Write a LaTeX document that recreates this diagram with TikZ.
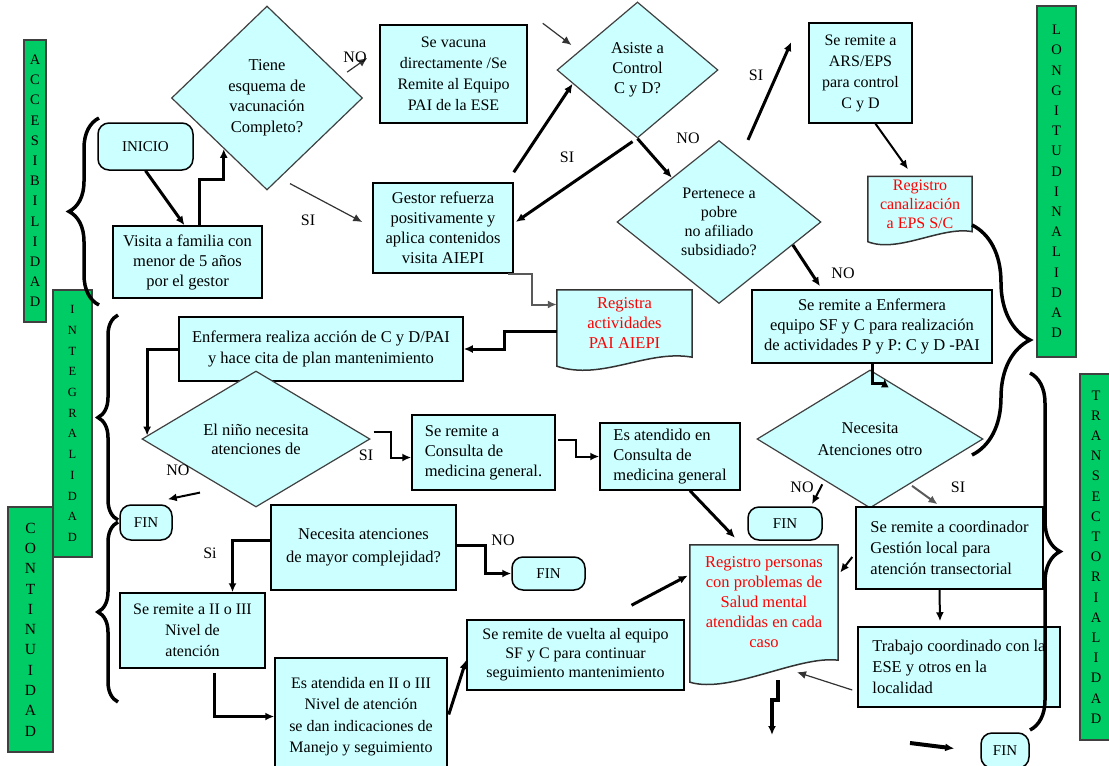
\documentclass[tikz,border=0pt]{standalone}
\usepackage{fontspec}
\setmainfont{Liberation Serif}
\usetikzlibrary{shapes.geometric,arrows.meta,calc,decorations.pathreplacing,backgrounds}
\definecolor{celeste}{RGB}{204,255,255}
\definecolor{verde}{RGB}{0,204,102}

\begin{document}
\begin{tikzpicture}[x=1pt,y=-1pt,>={Latex[length=9pt,width=8pt]},
    caja/.style={draw=black,line width=1.5pt,fill=celeste,align=center,inner sep=2pt,font=\fontsize{16.5}{20}\selectfont},
    cajaizq/.style={caja,align=left},
    terminal/.style={caja,rounded corners=11pt,font=\fontsize{15}{18}\selectfont},
    decision/.style={diamond,draw=black!75,line width=1.2pt,fill=celeste,align=center,inner sep=0pt,font=\fontsize{16.5}{20.5}\selectfont},
    registro/.style={align=center,inner sep=0pt,text=red,font=\fontsize{16.5}{20}\selectfont},
    hoja/.style={draw=black!80,line width=1.5pt,fill=celeste},
    barra/.style={draw=black!75,line width=1.5pt,fill=verde,align=center,inner sep=0pt,font=\fontsize{14.5}{20.2}\selectfont},
    etiqueta/.style={inner sep=0pt,font=\fontsize{16}{16}\selectfont},
    flecha/.style={->,line width=3pt},
    media/.style={->,line width=2pt},
    fina/.style={->,line width=1.2pt,black!80},
    llave/.style={decorate,decoration={brace,amplitude=#1},line width=3.5pt}]
\useasboundingbox (0,0) rectangle (1109,766);

\begin{scope}[every node/.style={barra}]
    \node[minimum width=22pt,minimum height=282pt] (acc) at (35,181) {A\\C\\C\\E\\S\\I\\B\\I\\L\\I\\D\\A\\D};
    \node[minimum width=45pt,minimum height=245pt,font=\fontsize{15.5}{20.3}\selectfont] (cont) at (30.5,629.5) {C\\O\\N\\T\\I\\N\\U\\I\\D\\A\\D};
    \node[minimum width=39pt,minimum height=267pt,font=\fontsize{12.5}{20.7}\selectfont] (integ) at (72.5,423.5) {I\\N\\T\\E\\G\\R\\A\\L\\I\\D\\A\\D};
    \node[minimum width=39pt,minimum height=351pt] (longi) at (1056.5,181.5) {L\\O\\N\\G\\I\\T\\U\\D\\I\\N\\A\\L\\I\\D\\A\\D};
    \node[minimum width=32pt,minimum height=366pt] (trans) at (1096,557) {T\\R\\A\\N\\S\\E\\C\\T\\O\\R\\I\\A\\L\\I\\D\\A\\D};
\end{scope}

\node[terminal,minimum width=95pt,minimum height=47pt] (inicio) at (145.5,146.5) {INICIO};
\node[caja,minimum width=149pt,minimum height=72pt] (visita) at (187.5,262) {Visita a familia con\\menor de 5 años\\por el gestor};
\node[decision,minimum width=191pt,minimum height=184pt] (dvacuna) at (267,98) {Tiene\\esquema de\\vacunación\\Completo?};
\node[caja,minimum width=147pt,minimum height=98pt,font=\fontsize{16}{21}\selectfont] (vacuna) at (453.5,74) {Se vacuna\\directamente /Se\\Remite al Equipo\\PAI de la ESE};
\node[decision,minimum width=161pt,minimum height=136pt,font=\fontsize{16.5}{20}\selectfont] (dcontrol) at (637.5,70) {Asiste a\\Control\\C y D?};
\node[caja,minimum width=103pt,minimum height=100pt,font=\fontsize{16}{21}\selectfont] (remars) at (860.5,73) {Se remite a\\ARS/EPS\\para control\\C y D};
\node[caja,minimum width=140pt,minimum height=90pt] (gestor) at (443,228) {Gestor refuerza\\positivamente y\\aplica contenidos\\visita AIEPI};
\node[decision,minimum width=204pt,minimum height=163pt,font=\fontsize{16}{19}\selectfont] (dpobre) at (719,222) {Pertenece a\\pobre\\no afiliado\\subsidiado?};
\node[registro,minimum width=104pt,minimum height=55pt,font=\fontsize{16}{19}\selectfont] (regcanal) at (920,204) {Registro\\canalización\\a EPS S/C};
\node[registro,minimum width=135pt,minimum height=67pt] (regact) at (624.5,323.5) {Registra\\actividades\\PAI AIEPI};
\node[caja,minimum width=240pt,minimum height=73pt] (remenf) at (872,326.5) {Se remite a Enfermera\\equipo SF y C para realización\\de actividades P y P: C y D -PAI};
\node[caja,minimum width=284pt,minimum height=64pt,font=\fontsize{16.5}{21}\selectfont] (enfacc) at (321,349) {Enfermera realiza acción de C y D/PAI\\y hace cita de plan mantenimiento};
\node[decision,minimum width=228pt,minimum height=98pt,font=\fontsize{16.5}{19}\selectfont] (dnino) at (256,439) {El niño necesita\\atenciones de};
\node[cajaizq,minimum width=143pt,minimum height=75pt] (remcons) at (483.5,452.5) {Se remite a\\Consulta de\\medicina general.};
\node[cajaizq,minimum width=140pt,minimum height=67pt] (atcons) at (670,456.5) {Es atendido en\\Consulta de\\medicina general};
\node[decision,minimum width=226pt,minimum height=98pt,font=\fontsize{16.5}{22}\selectfont] (dotro) at (870,439) {Necesita\\Atenciones otro};
\node[terminal,minimum width=52pt,minimum height=35pt] (fin1) at (146,522.5) {FIN};
\node[terminal,minimum width=74pt,minimum height=33pt] (fin2) at (785,523.5) {FIN};
\node[cajaizq,minimum width=187pt,minimum height=82pt,font=\fontsize{16.5}{21}\selectfont] (coord) at (949.5,548) {Se remite a coordinador\\Gestión local para\\atención transectorial};
\node[registro,minimum width=148pt,minimum height=115pt] (regsalud) at (764,602.5) {Registro personas\\con problemas de\\Salud mental\\atendidas en cada\\caso};
\node[cajaizq,minimum width=202pt,minimum height=80pt,font=\fontsize{16.5}{21}\selectfont] (trabajo) at (959,667) {Trabajo coordinado con la\\ESE y otros en la\\localidad};
\node[terminal,minimum width=48pt,minimum height=35pt] (fin3) at (1005,750.5) {FIN};
\node[caja,minimum width=185pt,minimum height=85pt,font=\fontsize{16.5}{23}\selectfont] (dmayor) at (363.5,547.5) {Necesita atenciones\\de mayor complejidad?};
\node[terminal,minimum width=73pt,minimum height=33pt] (fin4) at (548.5,573.5) {FIN};
\node[caja,minimum width=145pt,minimum height=75pt,font=\fontsize{16}{21}\selectfont] (remnivel) at (192.5,630.5) {Se remite a II o III\\Nivel de\\atención};
\node[caja,minimum width=172pt,minimum height=117pt,font=\fontsize{16}{21.5}\selectfont] (atnivel) at (361,716.5) {Es atendida en II o III\\Nivel de atención\\se dan indicaciones de\\Manejo y seguimiento};
\node[caja,minimum width=217pt,minimum height=70pt,font=\fontsize{16}{19}\selectfont] (vuelta) at (575.5,655) {Se remite de vuelta al equipo\\SF y C para continuar\\seguimiento mantenimiento};

\begin{pgfonlayer}{background}
    \filldraw[hoja] (regcanal.north west) -- (regcanal.north east) -- (regcanal.south east) .. controls +(-30,-6) and +(30,12) .. ($(regcanal.south west)+(0,10)$) -- cycle;
    \filldraw[hoja] (regact.north west) -- (regact.north east) -- (regact.south east) .. controls +(-45,-8) and +(45,15) .. ($(regact.south west)+(0,9)$) -- cycle;
    \filldraw[hoja] (regsalud.north west) -- (regsalud.north east) -- (regsalud.south east) .. controls +(-40,-5) and +(40,12) .. ($(regsalud.south west)+(0,22)$) -- cycle;
\end{pgfonlayer}

\draw[llave=30pt] (99,305) -- (99,118);
\draw[llave=20pt] (118,520) -- (118,315);
\draw[llave=20pt] (118,702) -- (118,522);
\draw[llave=58pt] (972,225) -- (972,455);
\draw[llave=30pt] (1030,373) -- (1030,730);

\draw[flecha] (inicio.south) -- ($(visita.north)+(-3,0)$);
\draw[flecha] ($(visita.north)+(12,0)$) -- ++(0,-46) -| ($(dvacuna.west)!0.55!(dvacuna.south)$);
\draw[fina] ($(dvacuna.north)!0.72!(dvacuna.east)+(11,0)$) -- ($(vacuna.west)+(-12,-16)$);
\draw[fina] ($(dvacuna.south)+(23,-7)$) -- ($(gestor.west)+(-10,-6)$);
\draw[fina] ($(vacuna.north east)+(15,-1)$) -- ($(dcontrol.west)+(15,-25)$);
\draw[flecha] ($(gestor.north east)+(0,-10)$) -- ($(dcontrol.west)!0.2!(dcontrol.south)$);
\draw[flecha] ($(dcontrol.south)+(-5,3)$) -- ($(gestor.east)+(2,-6)$);
\draw[flecha] (dcontrol.south) -- ($(dpobre.west)!0.54!(dpobre.north)$);
\draw[flecha] ($(dpobre.north)+(29,0)$) -- ($(remars.west)+(-17,-31)$);
\draw[media] ($(remars.south)+(15,0)$) -- ($(regcanal.north)+(-12,-7)$);
\draw[flecha] ($(dpobre.east)!0.28!(dpobre.south)$) -- ($(remenf.north)+(-52,-3)$);
\draw[media,black!65] ($(gestor.south east)+(-6,0)$) -- ++(24,0) |- ($(regact.west)+(0,-19)$);
\draw[flecha] ($(regact.west)+(0,8)$) -- ++(-52,0) |- (enfacc.east);
\draw[flecha] (enfacc.west) -| ($(dnino.west)!0.05!(dnino.north)$);
\draw[media] ($(dnino.east)+(3,-7)$) -- ++(17,0) |- ($(remcons.west)+(0,5)$);
\draw[media] ($(remcons.east)+(2,-13)$) -- ++(18,0) |- (atcons.west);
\draw[media] ($(dnino.south)+(-56,-15)$) -- ($(fin1.north east)+(-5,-5)$);
\draw[flecha] ($(atcons.south)+(20,0)$) -- ($(regsalud.north)+(-29,-7)$);
\draw[flecha] (remenf.south) -- ++(0,20) -| ($(dotro.north)!0.13!(dotro.east)$);
\draw[media] ($(dotro.west)!0.58!(dotro.south)+(0,5)$) -- ($(fin2.north)+(27,-2)$);
\draw[media,black!65] ($(dotro.south)!0.37!(dotro.east)+(0,3)$) -- ($(coord.north)+(-12,-2)$);
\draw[media] ($(coord.west)+(-3,9)$) -- ($(regsalud.east)+(2,-30)$);
\draw[media] ($(coord.south)+(-10,0)$) -- ($(trabajo.north)+(-19,-5)$);
\draw[fina] ($(trabajo.west)+(-5,23)$) -- ($(regsalud.south)+(33,12)$);
\coordinate (salida) at (772,735);
\draw[flecha,line width=4pt] ($(regsalud.south)+(14,20)$) -- ++(0,20) -- ++(-6,0) -- (salida);
\coordinate (entrada) at (910,743);
\draw[flecha,line width=4pt] (entrada) -- ($(fin3.west)+(-26,-2)$);
\draw[flecha] ($(dmayor.west)+(0,-7)$) -| ($(remnivel.north)+(40,0)$);
\draw[flecha] ($(dmayor.east)+(0,-2)$) -- ++(29,0) |- (fin4.west);
\draw[flecha] ($(remnivel.south)+(22,4)$) |- (atnivel.west);
\draw[flecha] ($(atnivel.east)+(1,-2)$) -- ($(vuelta.west)+(0,5)$);
\draw[flecha] ($(vuelta.north)+(56,-14)$) -- ($(regsalud.west)+(-2,-27)$);

\begin{scope}[every node/.style={etiqueta}]
    \node (lno1) at (355,57) {NO};
    \node (lsi1) at (308,220) {SI};
    \node (lsi2) at (567,157) {SI};
    \node (lno2) at (688,138) {NO};
    \node (lsi3) at (756,75) {SI};
    \node (lno3) at (843,273) {NO};
    \node (lsi4) at (366,455) {SI};
    \node (lno4) at (178,470) {NO};
    \node (lno5) at (802,487) {NO};
    \node (lsi5) at (958,487) {SI};
    \node (lsi6) at (210,553) {Si};
    \node (lno6) at (503,540) {NO};
\end{scope}
\end{tikzpicture}
\end{document}
